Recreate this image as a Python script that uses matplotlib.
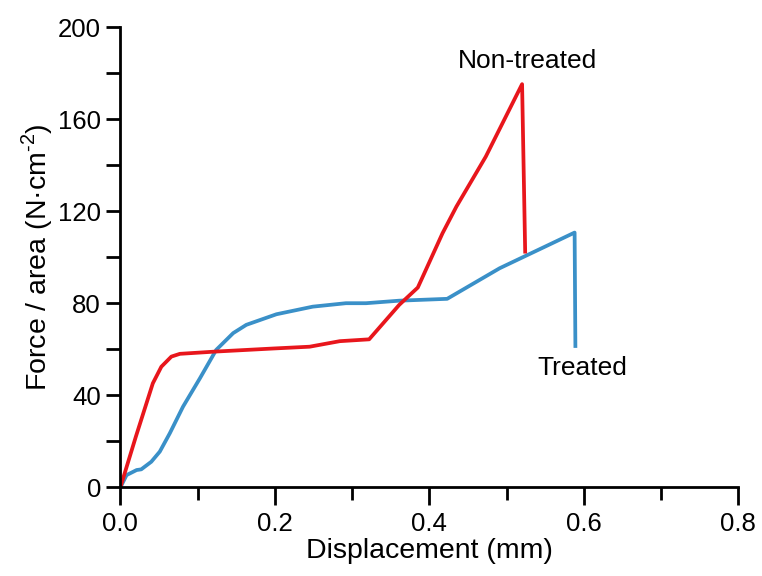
import matplotlib.pyplot as plt
from matplotlib.ticker import MultipleLocator

plt.rcParams['font.family'] = ['Liberation Sans', 'DejaVu Sans']
plt.rcParams['mathtext.fontset'] = 'custom'
plt.rcParams['mathtext.rm'] = 'Liberation Sans'

# Courbe non traitée (déplacement en mm, force/surface en N/cm2)
disp_non = [0.0, 0.020, 0.042, 0.053, 0.066, 0.077, 0.124, 0.197, 0.245, 0.284,
            0.322, 0.361, 0.385, 0.417, 0.435, 0.473, 0.520, 0.524]
force_non = [0.0, 22.0, 45.2, 52.4, 56.8, 58.0, 59.0, 60.3, 61.1, 63.5,
             64.3, 79.3, 86.8, 110.4, 122.0, 143.7, 175.2, 102.4]

# Courbe traitée
disp_tr = [0.0, 0.008, 0.021, 0.027, 0.040, 0.051, 0.064, 0.081, 0.103, 0.124,
           0.146, 0.163, 0.202, 0.249, 0.292, 0.318, 0.361, 0.423, 0.491, 0.588, 0.589]
force_tr = [0.0, 5.3, 7.5, 7.8, 11.1, 15.5, 23.5, 35.0, 47.4, 59.7,
            67.0, 70.6, 75.2, 78.5, 80.0, 80.0, 81.1, 81.9, 95.2, 110.7, 61.4]

x_ticks = [0.0, 0.2, 0.4, 0.6, 0.8]
y_ticks = [0, 40, 80, 120, 160, 200]

fig = plt.figure(figsize=(7.62, 5.76), dpi=100)
ax = fig.add_axes([0.158, 0.154, 0.811, 0.799])

ax.plot(disp_tr, force_tr, color='#3a90c8', lw=2.7, solid_joinstyle='round')
ax.plot(disp_non, force_non, color='#e8161c', lw=2.7, solid_joinstyle='round')

ax.text(0.527, 182.3, 'Non-treated', fontsize=19, ha='center', va='baseline')
ax.text(0.598, 48.8, 'Treated', fontsize=19, ha='center', va='baseline')

ax.set_xlim(0, 0.8)
ax.set_ylim(0, 200)
ax.set_xticks(x_ticks)
ax.set_yticks(y_ticks)
ax.set_xticklabels([f'{v:.1f}' for v in x_ticks])
ax.xaxis.set_minor_locator(MultipleLocator(0.1))
ax.yaxis.set_minor_locator(MultipleLocator(20))

for side in ['top', 'right']:
    ax.spines[side].set_visible(False)
for side in ['left', 'bottom']:
    ax.spines[side].set_linewidth(2)

ax.tick_params(axis='both', which='major', direction='out', width=2, labelsize=18.5)
ax.tick_params(axis='x', which='major', length=13, pad=5)
ax.tick_params(axis='x', which='minor', length=9, width=2)
ax.tick_params(axis='y', which='major', length=10, pad=4)
ax.tick_params(axis='y', which='minor', length=10, width=2)

ax.set_xlabel('Displacement (mm)', fontsize=20.5, labelpad=1)
ax.set_ylabel('Force / area (N·cm$^{\\mathrm{\u2010}2}$)', fontsize=20.5, labelpad=2)

fig.savefig('out.png', dpi=100)
